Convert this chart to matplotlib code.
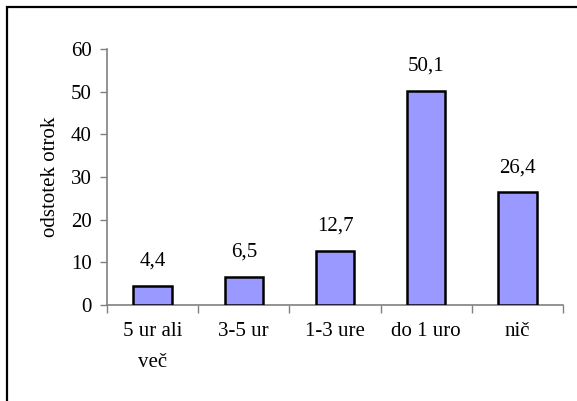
import matplotlib.pyplot as plt
from matplotlib.patches import Rectangle
from matplotlib.ticker import FixedLocator
import numpy as np

categories = ["5 ur ali\nveč", "3-5 ur", "1-3 ure", "do 1 uro", "nič"]
values = [4.4, 6.5, 12.7, 50.1, 26.4]
value_labels = ["4,4", "6,5", "12,7", "50,1", "26,4"]
y_ticks = [0, 10, 20, 30, 40, 50, 60]

plt.rcParams["font.family"] = ["Liberation Serif", "DejaVu Serif"]

fig = plt.figure(figsize=(5.77, 4.01), dpi=100)
ax = fig.add_axes([107 / 577, 96 / 401, 456 / 577, 256 / 401])

# outer chart-area frame (cut off at right and bottom in the original)
frame = Rectangle((7 / 577, -0.05), 1.2, 1.05 - 7 / 401, transform=fig.transFigure,
                  fill=False, edgecolor="black", linewidth=1.6, clip_on=False)
fig.patches.append(frame)

x = np.arange(len(categories))
ax.bar(x, values, width=0.42, color="#9999ff", edgecolor="black", linewidth=1.8, zorder=3)

for xi, v, lab in zip(x, values, value_labels):
    ax.annotate(lab, (xi, v), xytext=(0, 11), textcoords="offset points",
                ha="center", va="bottom", fontsize=15)

ax.set_xlim(-0.5, len(categories) - 0.5)
ax.set_ylim(0, 60)
ax.set_yticks(y_ticks)
ax.set_xticks(x)
ax.set_xticklabels(categories, fontsize=15, linespacing=1.85)
ax.xaxis.set_minor_locator(FixedLocator(np.arange(-0.5, len(categories), 1.0)))
ax.tick_params(axis="x", which="major", length=0, pad=12)
ax.tick_params(axis="x", which="minor", length=6, width=1, color="#808080", direction="out")
ax.tick_params(axis="y", length=5, width=1, color="#808080", labelsize=15, pad=6)
ax.set_ylabel("odstotek otrok", fontsize=15, labelpad=8)

for side in ("top", "right"):
    ax.spines[side].set_visible(False)
for side in ("left", "bottom"):
    ax.spines[side].set_color("#808080")
    ax.spines[side].set_linewidth(1.2)

fig.savefig("out.png", dpi=100)
